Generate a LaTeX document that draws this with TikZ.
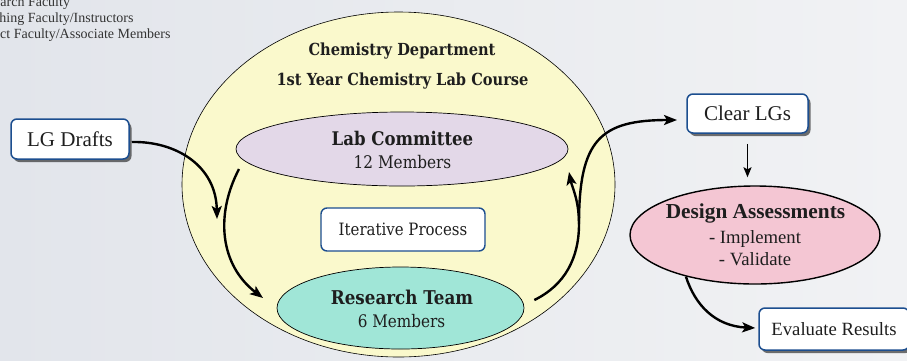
\documentclass[tikz,border=0pt]{standalone}
\usepackage{fontspec}
\setmainfont{Liberation Serif}
\newfontfamily\dvs[FakeStretch=0.88]{DejaVu Serif}
\usetikzlibrary{shapes.geometric,arrows.meta,shadows,calc}
\definecolor{bgL}{HTML}{E2E5EB}
\definecolor{bgR}{HTML}{F1F2F4}
\definecolor{yelc}{HTML}{FAF9CC}
\definecolor{lavc}{HTML}{E3D8E8}
\definecolor{tealc}{HTML}{A0E6D7}
\definecolor{pinkc}{HTML}{F4C6D3}
\definecolor{boxblue}{HTML}{1C4E8F}
\definecolor{txt}{HTML}{1E1E1E}
\begin{document}
\begin{tikzpicture}[x=1pt,y=-1pt,
  box/.style={draw=boxblue, line width=1.5pt, fill=white, rounded corners=6pt, inner sep=0pt, text=txt,
    drop shadow={shadow xshift=2.5pt, shadow yshift=-3pt, fill=black, opacity=0.55}},
  ipbox/.style={draw=boxblue, line width=1.4pt, fill=white, rounded corners=6pt, inner sep=0pt, text=txt},
  blob/.style={ellipse, draw=black, line width=0.7pt, inner sep=0pt},
  lbl/.style={anchor=base, inner sep=0pt, text=txt},
  arr/.style={line width=2.4pt, -{Stealth[length=13pt,width=10pt,inset=3pt]}},
  side/.style={anchor=base west, inner sep=0pt, text=black!80, font=\fontsize{14}{16}\selectfont}]
\useasboundingbox (0,0) rectangle (907,360);
\clip (0,0) rectangle (907,360);
\shade[left color=bgL, right color=bgR] (0,0) rectangle (907,360);

% side list
\node[side] (f1) at (-27,6) {Research Faculty};
\node[side] (f2) at (-27,22.7) {Teaching Faculty/Instructors};
\node[side] (f3) at (-35,38.5) {Adjunct Faculty/Associate Members};

% department circle
\node[blob, fill=yelc, line width=0.6pt, minimum width=433pt, minimum height=345pt] (dept) at (398.5,184.5) {};
\node[lbl, font=\dvs\bfseries\fontsize{16.6}{20}\selectfont] (d1) at (402,55) {Chemistry Department};
\node[lbl, font=\dvs\bfseries\fontsize{16.6}{20}\selectfont] (d2) at (402.5,85) {1st Year Chemistry Lab Course};

% lab committee
\node[blob, fill=lavc, minimum width=332pt, minimum height=74pt] (lc) at (402,149) {};
\node[lbl, font=\dvs\bfseries\fontsize{18.8}{22}\selectfont] (lc1) at (402.5,145) {Lab Committee};
\node[lbl, font=\dvs\fontsize{17.4}{20}\selectfont] (lc2) at (402.5,168) {12 Members};

% iterative process
\node[ipbox, minimum width=164pt, minimum height=43pt, font=\dvs\fontsize{17}{20}\selectfont] (ip) at (403,229.5) {Iterative Process};

% research team
\node[blob, fill=tealc, minimum width=247pt, minimum height=82pt] (rt) at (400.5,308) {};
\node[lbl, font=\dvs\bfseries\fontsize{19}{22}\selectfont] (rt1) at (402,304) {Research Team};
\node[lbl, font=\dvs\fontsize{17.3}{20}\selectfont] (rt2) at (401.5,327) {6 Members};

% left box
\node[box, minimum width=118pt, minimum height=40pt, font=\fontsize{21}{24}\selectfont] (lg) at (70,139) {LG Drafts};

% right side
\node[box, minimum width=121pt, minimum height=39pt, font=\fontsize{21}{24}\selectfont] (cl) at (747.5,113.5) {Clear LGs};
\node[blob, fill=pinkc, line width=1.4pt, minimum width=250pt, minimum height=98pt] (da) at (755,235) {};
\node[lbl, font=\bfseries\fontsize{21.3}{24}\selectfont] (da1) at (755.5,218) {Design Assessments};
\node[lbl, font=\fontsize{18.7}{22}\selectfont] (da2) at (755,243) {- Implement};
\node[lbl, font=\fontsize{18.7}{22}\selectfont] (da3) at (755,265) {- Validate};
\node[box, minimum width=150pt, minimum height=42pt, font=\fontsize{18.7}{22}\selectfont] (ev) at (834,329) {Evaluate Results};

% connectors
\coordinate (a2s) at (239,169);
\coordinate (t1) at (217,219);
\coordinate (t2) at (263,298);
\coordinate (sp) at (579,224);
\coordinate (t3) at (569,172);
\coordinate (t4) at (677,120);

\draw[arr] ($(lg.east)+(2,3)$) .. controls (175,141) and (216,165) .. (t1);
\draw[arr] (a2s) .. controls (215,215) and (220,265) .. (t2);
\draw[line width=2.4pt] ($(rt.east)+(10,-8)$) .. controls (565,285) and (579,258) .. (sp);
\draw[arr] (sp) .. controls (579,140) and (600,120) .. (t4);
\draw[arr] (sp) .. controls (579,200) and (572,187) .. (t3);
\draw[line width=1.5pt, -{Stealth[length=10pt,width=8pt,inset=2pt]}, shorten <=10pt, shorten >=8pt] (cl.south) -- (cl.south |- da.north);
\draw[arr] (da.211) .. controls (695,305) and (715,326) .. ($(ev.west)+(-3,-1)$);
\end{tikzpicture}
\end{document}
